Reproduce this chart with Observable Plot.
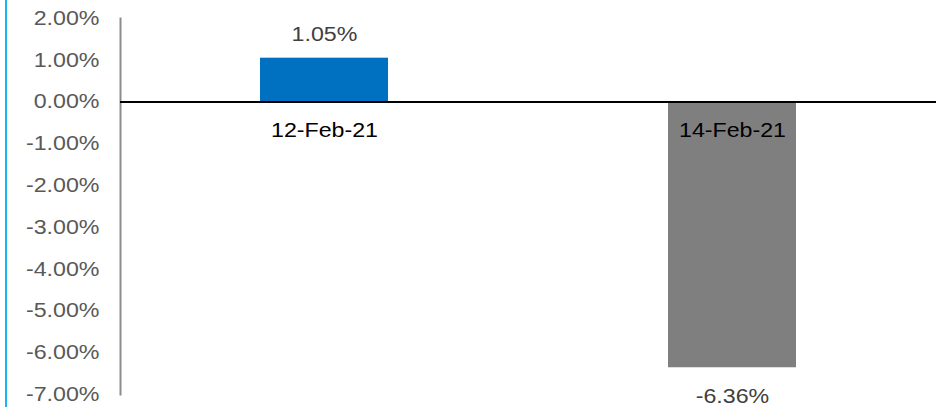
<!DOCTYPE html>
<html>
<head>
<meta charset="utf-8">
<script src="https://cdn.jsdelivr.net/npm/d3@7"></script>
<script src="https://cdn.jsdelivr.net/npm/@observablehq/plot@0.6"></script>
<style>
  html, body { margin: 0; padding: 0; background: #fff; }
  #wrap { position: relative; width: 941px; height: 407px; }
  #edge { position: absolute; left: 5px; top: 0; width: 2px; height: 407px; background: #1cb4ef; }
</style>
</head>
<body>
<div id="wrap"><div id="edge"></div></div>
<script>
const categories = ["12-Feb-21", "14-Feb-21"];
const values = [1.05, -6.36];
const barColors = ["#0070C0", "#7F7F7F"];
const yTicks = [2, 1, 0, -1, -2, -3, -4, -5, -6, -7];

const data = categories.map((c, i) => ({category: c, value: values[i], color: barColors[i]}));
const fmt = v => v.toFixed(2) + "%";

const chart = Plot.plot({
  width: 941,
  height: 407,
  marginLeft: 120,
  marginRight: 5,
  marginTop: 18,
  marginBottom: 13,
  style: {fontFamily: "'Liberation Sans', Arial, sans-serif", fontSize: "20px", background: "transparent"},
  x: {type: "band", domain: categories, paddingInner: 0.686, paddingOuter: 0.343, axis: null},
  y: {domain: [-7, 2], axis: null},
  marks: [
    Plot.frame({anchor: "left", stroke: "#8c8c8c", strokeWidth: 2}),
    Plot.barY(data, {x: "category", y: "value", fill: "color"}),
    Plot.ruleY([0], {stroke: "#000", strokeWidth: 2}),
    Plot.axisY({ticks: yTicks, tickFormat: fmt, tickSize: 0, tickPadding: 21, label: null,
      fill: "#595959", fontSize: 20}),
    Plot.text(data, {x: "category", y: "value", text: d => fmt(d.value),
      fill: "#404040", fontSize: 20, filter: d => d.value >= 0, dy: -24}),
    Plot.text(data, {x: "category", y: "value", text: d => fmt(d.value),
      fill: "#404040", fontSize: 20, filter: d => d.value < 0, dy: 29}),
    Plot.text(data, {x: "category", y: () => 0, text: "category", fill: "#000", fontSize: 20, dy: 29})
  ]
});
document.getElementById("wrap").appendChild(chart);
chart.style.position = "absolute";
chart.style.left = "0";
chart.style.top = "0";
// horizontal stretch of glyphs to match reference text proportions
chart.querySelectorAll("text").forEach(t => {
  const len = t.getComputedTextLength();
  if (len > 0) {
    t.setAttribute("textLength", (len * 1.16).toFixed(1));
    t.setAttribute("lengthAdjust", "spacingAndGlyphs");
  }
});
</script>
</body>
</html>
